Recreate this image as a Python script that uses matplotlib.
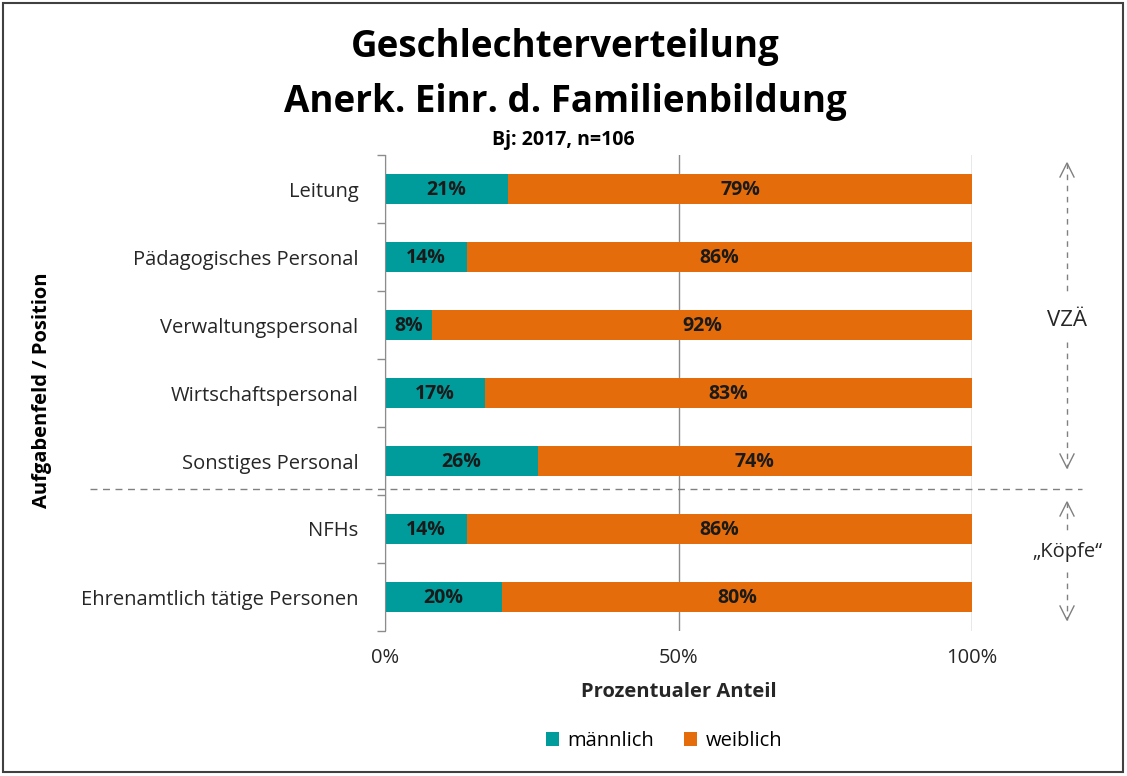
import numpy as np
import matplotlib
matplotlib.use("Agg")
import matplotlib.pyplot as plt
from matplotlib.patches import Rectangle

plt.rcParams['font.family'] = ['Open Sans', 'DejaVu Sans']

categories = ["Leitung", "Pädagogisches Personal", "Verwaltungspersonal",
              "Wirtschaftspersonal", "Sonstiges Personal", "NFHs",
              "Ehrenamtlich tätige Personen"]
maennlich = [21, 14, 8, 17, 26, 14, 20]
weiblich = [79, 86, 92, 83, 74, 86, 80]
xticks = [0, 50, 100]
xticklabels = ["0%", "50%", "100%"]

teal = "#009B9B"
orange = "#E46C0A"
W, H = 1127, 776
fs = 14.5

fig = plt.figure(figsize=(W / 100, H / 100), dpi=100)

# plot area in pixels
left, right, top, bottom = 385, 972, 155, 631
ax = fig.add_axes([left / W, 1 - bottom / H, (right - left) / W, (bottom - top) / H])

y = np.arange(len(categories))
bh = 0.44
ax.barh(y, maennlich, height=bh, color=teal, label="männlich", zorder=3)
ax.barh(y, weiblich, left=maennlich, height=bh, color=orange, label="weiblich", zorder=3)

for yi, m, w in zip(y, maennlich, weiblich):
    ax.text(m / 2, yi + 0.02, f"{m}%", ha="center", va="center", fontsize=14,
            fontweight="bold", color="#1a1a1a", zorder=4)
    ax.text(m + w / 2, yi + 0.02, f"{w}%", ha="center", va="center", fontsize=14,
            fontweight="bold", color="#1a1a1a", zorder=4)

ax.set_ylim(len(categories) - 0.5, -0.5)
ax.set_xlim(0, 100)
ax.set_yticks(y)
ax.set_yticklabels(categories, fontsize=fs, color="#262626")
ax.tick_params(axis="y", length=0, pad=19)
ax.set_yticks(np.arange(-0.5, len(categories)), minor=True)
ax.tick_params(axis="y", which="minor", length=6, color="#8c8c8c", width=1)
ax.set_xticks(xticks)
ax.set_xticklabels(xticklabels, fontsize=fs, color="#262626")
ax.tick_params(axis="x", length=0, pad=12)
ax.grid(axis="x", color="#8c8c8c", linewidth=1, zorder=0)
for s in ["top", "right", "bottom"]:
    ax.spines[s].set_visible(False)
ax.spines["left"].set_color("#8c8c8c")
ax.spines["left"].set_zorder(5)
ax.set_xlabel("Prozentualer Anteil", fontsize=fs, fontweight="bold",
              color="#262626", labelpad=10)

# overlay in pixel coordinates for decorations
ov = fig.add_axes([0, 0, 1, 1], zorder=10)
ov.set_xlim(0, W)
ov.set_ylim(H, 0)
ov.axis("off")
ov.patch.set_alpha(0)

ov.add_patch(Rectangle((3, 3), W - 7, H - 7, fill=False, edgecolor="#404040", linewidth=1.5))

ov.text(W / 2 + 2, 47, "Geschlechterverteilung", ha="center", va="center",
        fontsize=26.5, fontweight="bold", color="#000000")
ov.text(W / 2 + 2, 102, "Anerk. Einr. d. Familienbildung", ha="center", va="center",
        fontsize=26.5, fontweight="bold", color="#000000")
ov.text(W / 2, 140, "Bj: 2017, n=106", ha="center", va="center",
        fontsize=14, fontweight="bold", color="#000000")

ov.text(42, 390, "Aufgabenfeld / Position", rotation=90, ha="center", va="center",
        fontsize=fs, fontweight="bold", color="#000000")

# separator
ov.plot([90, 1082], [489, 489], color="#808080", linestyle=(0, (5, 4)), linewidth=1)

gray = "#808080"
ax_x = 1067


def vline(y0, y1):
    ov.plot([ax_x, ax_x], [y0, y1], color=gray, linestyle=(0, (4, 4)), linewidth=1)


def head(yy, up):
    d = 14 if up else -14
    ov.plot([ax_x - 7, ax_x, ax_x + 7], [yy + d, yy, yy + d], color=gray, linewidth=1)


head(163, True)
vline(163, 292)
ov.text(ax_x, 320, "VZÄ", ha="center", va="center", fontsize=16, color="#262626")
vline(342, 468)
head(468, False)

head(502, True)
vline(502, 532)
ov.text(ax_x, 552, "„Köpfe“", ha="center", va="center", fontsize=fs, color="#262626")
vline(572, 620)
head(620, False)

handles, labels = ax.get_legend_handles_labels()
fig.legend(handles, labels, loc="center", bbox_to_anchor=(664 / W, 1 - 741 / H),
           ncol=2, frameon=False, fontsize=fs, handlelength=0.65, handleheight=0.65,
           columnspacing=1.5, handletextpad=0.4)

fig.savefig("out.png", dpi=100)
